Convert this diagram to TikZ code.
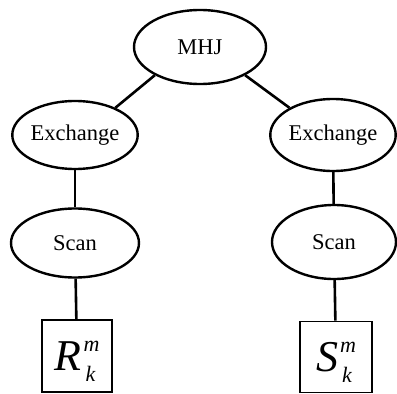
\documentclass[tikz,border=0pt]{standalone}
\usepackage{fontspec}
\setmainfont{Liberation Serif}
\usetikzlibrary{shapes.geometric}

\newcommand{\relname}[1]{\textit{#1}\kern2pt\rlap{\raisebox{19pt}[0pt][0pt]{\fontsize{22}{22}\selectfont\itshape m}}\kern2pt\raisebox{-11pt}[0pt][0pt]{\fontsize{22}{22}\selectfont\itshape k}\kern4pt}

\begin{document}
\begin{tikzpicture}[x=1pt, y=-1pt,
	op/.style = {ellipse, draw=black, line width=2.4pt, inner sep=0pt,
		font=\fontsize{22.5}{22.5}\selectfont},
	rel/.style = {rectangle, draw=black, line width=1.8pt, inner sep=0pt,
		font=\fontsize{44}{44}\selectfont},
	link/.style = {line width=2.6pt}]
				\useasboundingbox (0,0) rectangle (397,394);
				\node[op,
				minimum width = 132pt,
				minimum height = 74pt] (1) at(200,47){MHJ};
				\node[op,
				minimum width = 122pt,
				minimum height = 68pt] (2) at(75,135){Exchange};
				\node[op,
				minimum width = 122pt,
				minimum height = 72pt] (3) at(333,135){Exchange};
				\node[op,
				minimum width = 128pt,
				minimum height = 69pt] (4) at(75,243){Scan};
				\node[op,
				minimum width = 124pt,
				minimum height = 74pt] (5) at(334,242){Scan};
				\node[rel,
				minimum width = 70pt,
				minimum height = 72pt] (6) at(77,356){\relname{R}};
				\node[rel,
				minimum width = 72pt,
				minimum height = 71pt] (7) at(336,357){\relname{S}};
				\draw[link] (1.212) -- (2.34);
				\draw[link] (1.328) -- (3.148);
				\draw[link] (2) -- (4);
				\draw[link] (3) -- (5);
				\draw[link] (4) -- (6);
				\draw[link] (5) -- (7);
			\end{tikzpicture}
\end{document}
